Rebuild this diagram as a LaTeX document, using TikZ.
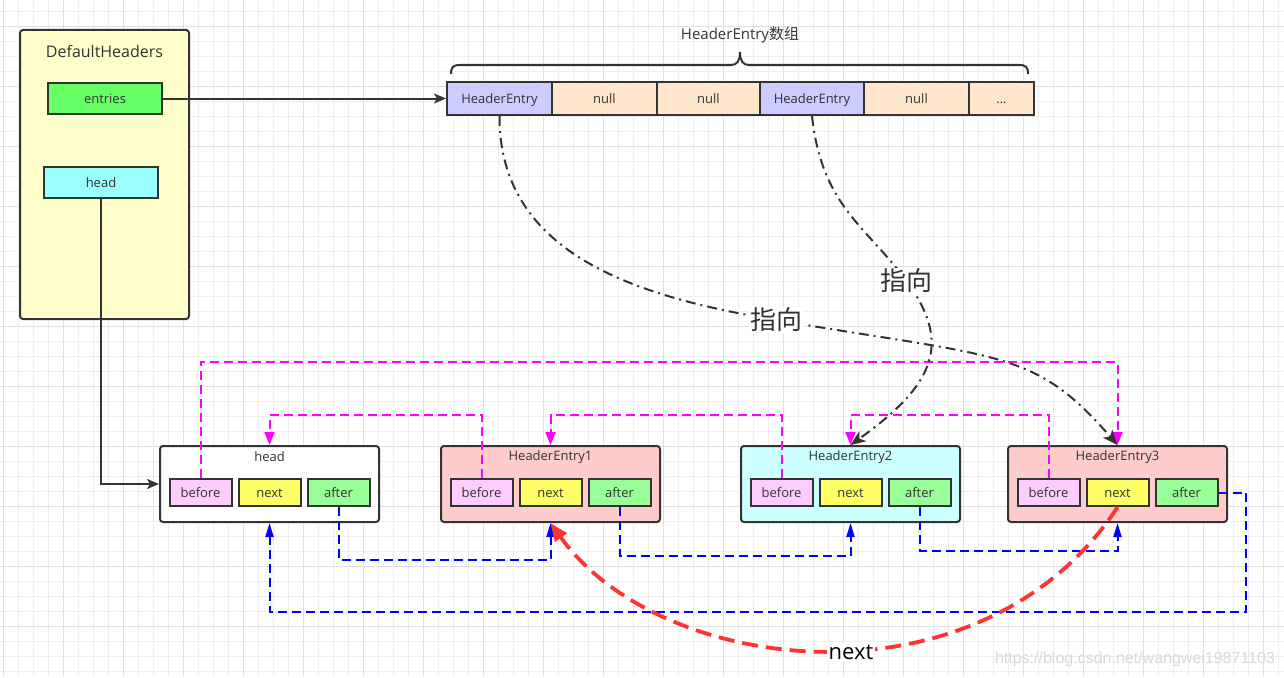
\documentclass[tikz,border=0pt]{standalone}
\usepackage{fontspec}
\setmainfont{Open Sans}
\newfontfamily\cjk{Noto Sans CJK SC}
\newfontfamily\wmfont{Liberation Sans}
\usetikzlibrary{arrows.meta}
\newcommand\myfs[1]{\fontsize{#1}{#1}\selectfont}
\definecolor{ink}{HTML}{333333}
\definecolor{gmin}{HTML}{EEEEEE}
\definecolor{gmaj}{HTML}{E0E0E0}
\definecolor{yellowbg}{HTML}{FFFFCC}
\definecolor{entgreen}{HTML}{66FF66}
\definecolor{headcyan}{HTML}{99FFFF}
\definecolor{arrblue}{HTML}{CCCCFF}
\definecolor{arrnull}{HTML}{FFE6CC}
\definecolor{pinkbg}{HTML}{FFCCCC}
\definecolor{cyanbg}{HTML}{CCFFFF}
\definecolor{beforec}{HTML}{FFCCFF}
\definecolor{nextc}{HTML}{FFFF66}
\definecolor{afterc}{HTML}{99FF99}
\definecolor{magc}{HTML}{FF00FF}
\definecolor{bluc}{HTML}{0000FF}
\definecolor{redc}{HTML}{FF3333}
\definecolor{wmc}{HTML}{D9D9D9}
\begin{document}
\begin{tikzpicture}[x=1pt,y=-1pt,
  every node/.style={text=ink, inner sep=0pt},
  gridminor/.style={draw=gmin, line width=1pt},
  gridmajor/.style={draw=gmaj, line width=1pt},
  pbox/.style={draw=ink, line width=2pt, inner sep=0pt, font=\myfs{13}, text height=10pt, text depth=0pt},
  cell/.style={pbox, minimum height=33pt},
  subbox/.style={pbox, minimum width=62pt, minimum height=27pt},
  entbox/.style={draw=ink, line width=2pt, rounded corners=3pt, minimum width=219pt, minimum height=76pt},
  blk/.style={draw=ink, line width=2pt, -{Stealth[length=12pt,width=10pt,inset=3pt]}},
  mag/.style={draw=magc, line width=2pt, dash pattern=on 9pt off 5pt, -{Triangle[length=13pt,width=10pt]}},
  blu/.style={draw=bluc, line width=2pt, dash pattern=on 9pt off 5pt, -{Triangle[length=14pt,width=8pt]}},
  redarr/.style={draw=redc, line width=3.8pt, dash pattern=on 16pt off 8pt, -{Triangle[length=18pt,width=14pt]}},
  dd/.style={draw=ink, line width=2pt, dash pattern=on 10pt off 5pt on 2pt off 5pt, -{Stealth[length=15pt,width=12pt,inset=4pt]}},
  lbl/.style={fill=white, inner sep=1.5pt, font=\cjk\myfs{26}}
]
\useasboundingbox (0,0) rectangle (1284,677);
\fill[white] (0,0) rectangle (1284,677);
% grid
\foreach \x in {3.3,18.3,...,1284} \draw[gridminor] (\x,0) -- (\x,677);
\foreach \y in {11.7,26.7,...,677} \draw[gridminor] (0,\y) -- (1284,\y);
\foreach \x in {3.3,63.3,...,1284} \draw[gridmajor] (\x,0) -- (\x,677);
\foreach \y in {26.7,86.7,...,677} \draw[gridmajor] (0,\y) -- (1284,\y);

% DefaultHeaders
\node[draw=ink, line width=2pt, fill=yellowbg, rounded corners=3pt, minimum width=169pt, minimum height=289pt] (dh) at (104.5,174.5) {};
\node[font=\myfs{16}] (dht) at (104.5,51.5) {DefaultHeaders};
\node[pbox, fill=entgreen, minimum width=114pt, minimum height=31pt] (ent) at (105,98.5) {entries};
\node[pbox, fill=headcyan, minimum width=114pt, minimum height=31pt] (hd) at (101,182.5) {head};

% array
\node[cell, fill=arrblue, minimum width=105pt] (e1) at (499.5,98.5) {HeaderEntry};
\node[cell, fill=arrnull, minimum width=105pt] (e2) at (604.5,98.5) {null};
\node[cell, fill=arrnull, minimum width=103pt] (e3) at (708.5,98.5) {null};
\node[cell, fill=arrblue, minimum width=104pt] (e4) at (812,98.5) {HeaderEntry};
\node[cell, fill=arrnull, minimum width=105pt] (e5) at (916.5,98.5) {null};
\node[cell, fill=arrnull, minimum width=65pt] (e6) at (1001.5,98.5) {...};
\node[font=\myfs{15}] (arrt) at (740,34.5) {HeaderEntry{\cjk 数组}};
\draw[ink, line width=2pt] (451,74) .. controls (451,67) and (453,65) .. (460,65) -- (731,65)
  .. controls (737,65) and (740,61) .. (740,52) .. controls (740,61) and (743,65) .. (749,65)
  -- (1019,65) .. controls (1026,65) and (1028,67) .. (1028,74);

% entry nodes
\foreach \n/\cx/\col/\t in {nh/269.5/white/head, na/550.5/pinkbg/HeaderEntry1, nb/850.5/cyanbg/HeaderEntry2, nc/1117.5/pinkbg/HeaderEntry3}{
  \node[entbox, fill=\col] (\n) at (\cx,484) {};
  \node[font=\myfs{13}] (\n T) at (\cx,457) {\t};
  \node[subbox, fill=beforec] (\n B) at (\cx-69,492.7) {before};
  \node[subbox, fill=nextc] (\n N) at (\cx,492.7) {next};
  \node[subbox, fill=afterc] (\n A) at (\cx+69,492.7) {after};
}

% black connectors
\draw[blk] (ent.east) -- (e1.west);
\draw[blk] (hd.south) |- (nh.west);

% magenta (before)
\draw[mag] (nhB.north) |- (nc.north |- 0,362) -- (nc.north);
\draw[mag] (naB.north) |- (nh.north |- 0,415) -- (nh.north);
\draw[mag] (nbB.north) |- (na.north |- 0,415) -- (na.north);
\draw[mag] (ncB.north) |- (nb.north |- 0,415) -- (nb.north);

% blue (after)
\draw[blu] (nhA.south) |- (na.south |- 0,560) -- (na.south);
\draw[blu] (naA.south) |- (nb.south |- 0,556) -- (nb.south);
\draw[blu] (nbA.south) |- (nc.south |- 0,551) -- (nc.south);
\coordinate (br) at (1246,612);
\draw[blu] (ncA.east) -| (br) -| (nh.south);

% dash-dot pointers
\draw[dd] (e1.south) .. controls (499,255) and (638,297) .. (776,320) node[lbl] (z1) {指向}
  .. controls (1001.7,358.2) and (1034.1,349.1) .. (nc.north);
\draw[dd] (e4.south) .. controls (821.6,206.3) and (867.3,227.1) .. (906.5,281) node[lbl] (z2) {指向}
  .. controls (950.1,340.9) and (938.7,382.1) .. (nb.north);

% red next
\draw[redarr] (ncN.south) .. controls (982.5,712.5) and (661.5,677.8) .. (na.south);
\node[fill=white, inner sep=1.5pt, font=\myfs{22}, text=black] (nx) at (851,652) {next};

% watermark
\node[font=\wmfont\myfs{16}, text=wmc] (wmk) at (1135,659) {https://blog.csdn.net/wangwei19871103};
\end{tikzpicture}
\end{document}
